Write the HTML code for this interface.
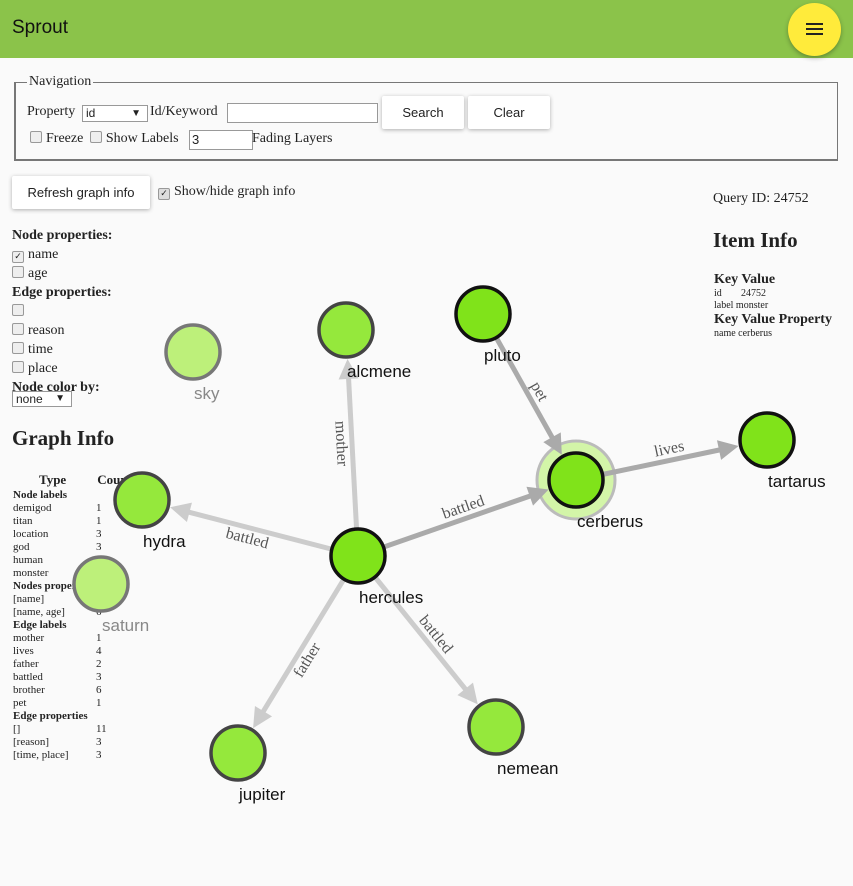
<!DOCTYPE html>
<html><head><meta charset="utf-8"><style>
body{margin:0;width:853px;height:886px;background:#fafafa;font-family:"Liberation Serif",serif;color:#222;position:relative;overflow:hidden}
.abs{position:absolute}
.btn{position:absolute;background:#fff;box-shadow:0 1px 4px rgba(0,0,0,.3);font-family:"Liberation Sans",sans-serif;font-size:13px;text-align:center;color:#222;border-radius:2px}
.cb{display:inline-block;width:10px;height:10px;border:1px solid #999;border-radius:2px;background:#eee;vertical-align:-1px;margin-right:4px;font-size:9px;line-height:10px;text-align:center;font-family:"DejaVu Sans",sans-serif}
.sm{font-size:11px;line-height:13px}
table td{padding:0}
</style></head><body>
<div class="abs" style="left:0;top:0;width:853px;height:58px;background:#8bc34a"></div>
<div class="abs" style="left:12px;top:17px;font-family:'Liberation Sans',sans-serif;font-size:19px;color:#111">Sprout</div>
<div class="abs" style="left:788px;top:3px;width:53px;height:53px;border-radius:50%;background:#ffeb3b;box-shadow:0 2px 5px rgba(0,0,0,.3)">
<div style="position:absolute;left:18px;top:20px;width:17px;height:2px;background:#222;box-shadow:0 5px 0 #222,0 10px 0 #222"></div></div>
<div class="abs" style="left:14px;top:82px;width:821px;height:76px;border:1px solid #777;border-left-width:2px;border-bottom-width:2px"></div>
<div class="abs" style="left:27px;top:74px;background:#fafafa;padding:0 2px;font-size:14px">Navigation</div>
<div class="abs" style="left:27px;top:104px;font-size:14px">Property</div>
<div class="abs" style="left:82px;top:105px;width:61px;height:15px;border:1px solid #999;background:#fff;font-family:'Liberation Sans',sans-serif;font-size:12px;line-height:15px;padding-left:3px">id<span style="position:absolute;right:6px;font-size:10px">▼</span></div>
<div class="abs" style="left:150px;top:104px;font-size:14px">Id/Keyword</div>
<div class="abs" style="left:227px;top:103px;width:149px;height:18px;border:1px solid #999;background:#fff"></div>
<div class="btn" style="left:382px;top:96px;width:82px;height:33px;line-height:33px">Search</div>
<div class="btn" style="left:468px;top:96px;width:82px;height:33px;line-height:33px">Clear</div>
<div class="abs" style="left:30px;top:131px;font-size:14px"><span class="cb"></span>Freeze <span class="cb" style="margin-left:3px"></span>Show Labels</div>
<div class="abs" style="left:189px;top:130px;width:60px;height:18px;border:1px solid #999;background:#fff;font-family:'Liberation Sans',sans-serif;font-size:13px;line-height:18px;padding-left:2px">3</div>
<div class="abs" style="left:252px;top:131px;font-size:14px">Fading Layers</div>
<div class="btn" style="left:12px;top:176px;width:138px;height:33px;line-height:33px">Refresh graph info</div>
<div class="abs" style="left:158px;top:184px;font-size:14px"><span class="cb" style="background:#ddd">✓</span>Show/hide graph info</div>
<div class="abs" style="left:12px;top:226px;font-size:14px;line-height:19px">
<b>Node properties:</b><br><span class="cb">✓</span>name<br><span class="cb"></span>age<br><b>Edge properties:</b><br><span class="cb"></span><br><span class="cb"></span>reason<br><span class="cb"></span>time<br><span class="cb"></span>place<br><b>Node color by:</b></div>
<div class="abs" style="left:12px;top:391px;width:55px;height:14px;border:1px solid #999;background:#fff;font-family:'Liberation Sans',sans-serif;font-size:12px;line-height:14px;padding-left:3px">none<span style="position:absolute;right:6px;font-size:10px">▼</span></div>
<div class="abs" style="left:12px;top:426px;font-size:21px;font-weight:bold">Graph Info</div>
<div class="abs sm" style="left:13px;top:473px">
<div style="font-size:13px;font-weight:bold;line-height:14px"><span style="margin-left:26px">Type</span><span style="margin-left:31px">Count</span></div>
<table class="sm" style="border-collapse:collapse;font-size:11px;margin-top:2px"><tbody>
<tr><td colspan="2"><b>Node labels</b></td></tr>
<tr><td style="width:83px">demigod</td><td>1</td></tr><tr><td>titan</td><td>1</td></tr><tr><td>location</td><td>3</td></tr><tr><td>god</td><td>3</td></tr><tr><td>human</td><td>1</td></tr><tr><td>monster</td><td>3</td></tr>
<tr><td colspan="2"><b>Nodes properties</b></td></tr>
<tr><td>[name]</td><td>6</td></tr><tr><td>[name, age]</td><td>6</td></tr>
<tr><td colspan="2"><b>Edge labels</b></td></tr>
<tr><td>mother</td><td>1</td></tr><tr><td>lives</td><td>4</td></tr><tr><td>father</td><td>2</td></tr><tr><td>battled</td><td>3</td></tr><tr><td>brother</td><td>6</td></tr><tr><td>pet</td><td>1</td></tr>
<tr><td colspan="2"><b>Edge properties</b></td></tr>
<tr><td>[]</td><td>11</td></tr><tr><td>[reason]</td><td>3</td></tr><tr><td>[time, place]</td><td>3</td></tr>
</tbody></table></div>
<div class="abs" style="left:713px;top:191px;font-size:14px">Query ID: 24752</div>
<div class="abs" style="left:713px;top:228px;font-size:21px;font-weight:bold">Item Info</div>
<div class="abs" style="left:714px;top:272px;font-size:10px;line-height:12px">
<div style="font-size:14px;font-weight:bold;line-height:16px">Key Value</div>
<div>id<span style="position:absolute;left:27px">24752</span></div>
<div>label monster</div>
<div style="font-size:14px;font-weight:bold;line-height:16px">Key Value Property</div>
<div>name cerberus</div></div>

<svg id="graph" class="abs" style="left:0;top:0" width="853" height="886"></svg>
<script>
const nodeNames=["hercules","alcmene","pluto","cerberus","tartarus","hydra","saturn","sky","jupiter","nemean"];
const nodeX=[358,346,483,576,767,142,101,193,238,496];
const nodeY=[556,330,314,480,440,500,584,352,753,727];
const nodeStyle=["main","soft","main","main","main","soft","faded","faded","soft","soft"];
const edgeSrc=["hercules","hercules","hercules","hercules","hercules","pluto","cerberus"];
const edgeDst=["alcmene","hydra","cerberus","jupiter","nemean","cerberus","tartarus"];
const edgeLabels=["mother","battled","battled","father","battled","pet","lives"];
const edgeShade=["#ccc","#ccc","#aaa","#ccc","#ccc","#aaa","#aaa"];
const NS="http://www.w3.org/2000/svg";
const svg=document.getElementById('graph');
function mk(t,a){const e=document.createElementNS(NS,t);for(const k in a)e.setAttribute(k,a[k]);return e;}
const idx=n=>nodeNames.indexOf(n);
const ci=idx("cerberus");
const halo=mk('circle',{cx:nodeX[ci],cy:nodeY[ci],r:39,fill:'#d3f5a8',stroke:'#bbb','stroke-width':3});


svg.appendChild(halo);
for(let i=0;i<edgeSrc.length;i++){
 const s=idx(edgeSrc[i]),d=idx(edgeDst[i]);
 const x1=nodeX[s],y1=nodeY[s],x2=nodeX[d],y2=nodeY[d];
 const dx=x2-x1,dy=y2-y1,L=Math.hypot(dx,dy),ux=dx/L,uy=dy/L;
 const tipx=x2-ux*29,tipy=y2-uy*29,bx=tipx-ux*20,by=tipy-uy*20;
 const g=mk('g',{});
 
 
 g.appendChild(mk('line',{x1:x1,y1:y1,x2:bx+ux*2,y2:by+uy*2,stroke:edgeShade[i],'stroke-width':5}));
 g.appendChild(mk('polygon',{points:`${tipx},${tipy} ${bx-uy*10},${by+ux*10} ${bx+uy*10},${by-ux*10}`,fill:edgeShade[i]}));
 const mx=(x1+x2)/2+uy*11,my=(y1+y2)/2-ux*11;
 let ang=Math.atan2(dy,dx)*180/Math.PI; if(ang>90)ang-=180; if(ang<-90)ang+=180;
 const t=mk('text',{x:mx,y:my,transform:`rotate(${ang} ${mx} ${my})`,'text-anchor':'middle','dominant-baseline':'central','font-family':'Liberation Serif, serif','font-size':16,fill:'#555'});
 t.textContent=edgeLabels[i];
 g.appendChild(t);
 svg.appendChild(g);
}
for(let i=0;i<nodeNames.length;i++){
 const st=nodeStyle[i];
 const fill=st==='main'?'#80e31a':st==='soft'?'#95e83c':'#bdf07a';
 const stroke=st==='main'?'#111':st==='soft'?'#444':'#777';
 const g=mk('g',{});
 
 
 g.appendChild(mk('circle',{cx:nodeX[i],cy:nodeY[i],r:27,fill:fill,stroke:stroke,'stroke-width':3.5}));
 const t=mk('text',{x:nodeX[i]+1,y:nodeY[i]+47,'font-family':'Liberation Sans, sans-serif','font-size':17,fill:st==='faded'?'#888':'#111'});
 t.textContent=nodeNames[i];
 g.appendChild(t);
 svg.appendChild(g);
}
</script>
</body></html>
